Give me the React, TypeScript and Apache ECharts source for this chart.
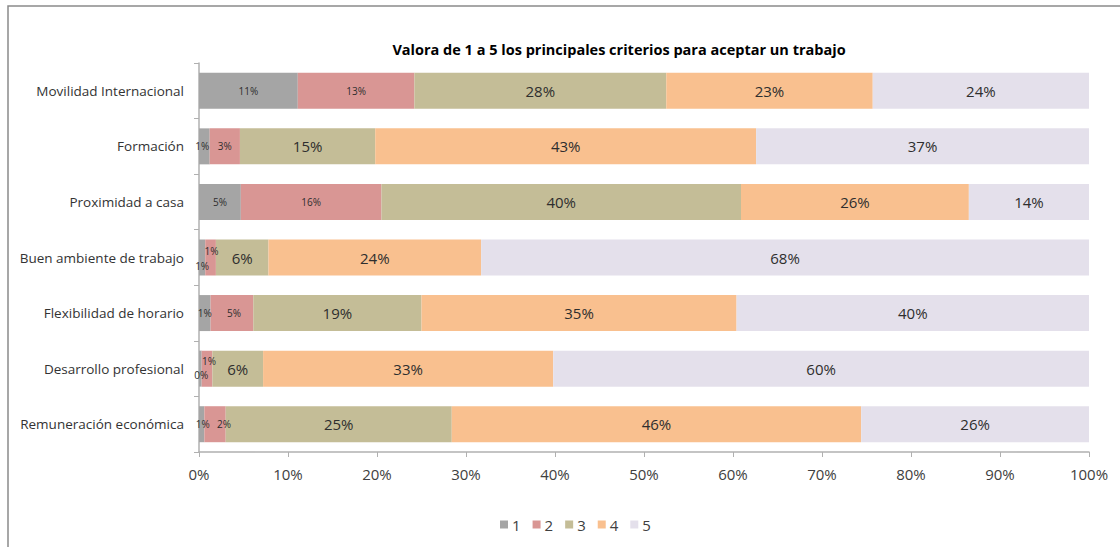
import React, { useEffect, useRef } from "react";
import * as echarts from "echarts";

const title = "Valora de 1 a 5 los principales criterios para aceptar un trabajo";
const categories = [
  "Movilidad Internacional",
  "Formación",
  "Proximidad a casa",
  "Buen ambiente de trabajo",
  "Flexibilidad de horario",
  "Desarrollo profesional",
  "Remuneración económica",
];
const seriesNames = ["1", "2", "3", "4", "5"];
const score1 = [11.1, 1.2, 4.7, 0.7, 1.3, 0.3, 0.6];
const score2 = [13.1, 3.4, 15.8, 1.2, 4.8, 1.2, 2.4];
const score3 = [28.3, 15.2, 40.4, 5.9, 18.9, 5.7, 25.4];
const score4 = [23.2, 42.8, 25.6, 23.9, 35.4, 32.6, 46.0];
const score5 = [24.3, 37.4, 13.5, 68.3, 39.6, 60.2, 25.6];
const xTicks = [0, 10, 20, 30, 40, 50, 60, 70, 80, 90, 100];

const colors = ["#a5a5a5", "#d99694", "#c4bd97", "#f9c08f", "#e4e0eb"];
const FONT = "'Open Sans', 'Noto Sans', sans-serif";

// label nudges for the tiny segments: key `${series}-${category}`
const labelOffsets: Record<string, [number, number]> = {
  "0-1": [-2, 0],
  "0-3": [0, 8],
  "1-3": [1, -7],
  "0-5": [1, 6],
  "1-5": [2, -8],
  "0-6": [1, 0],
  "1-6": [9, 0],
  "1-4": [2, 0],
};

export default function App() {
  const ref = useRef<HTMLDivElement>(null);
  useEffect(() => {
    if (!ref.current) return;
    const chart = echarts.init(ref.current, undefined, { renderer: "svg" });
    const all = [score1, score2, score3, score4, score5];
    const series = all.map((vals, si) => ({
      name: seriesNames[si],
      type: "bar",
      stack: "total",
      barWidth: 36,
      itemStyle: { color: colors[si] },
      label: {
        show: true,
        position: "inside",
        color: "#2e2e2e",
        fontFamily: FONT,
        fontSize: si < 2 ? 10 : 15,
        formatter: (p: any) => Math.round(p.value) + "%",
      },
      data: vals.map((v, ci) => {
        const off = labelOffsets[`${si}-${ci}`];
        return off ? { value: v, label: { offset: off } } : { value: v };
      }),
    }));
    chart.setOption({
      animation: false,
      backgroundColor: "#ffffff",
      title: {
        text: title,
        left: 614,
        textAlign: "center",
        top: 37,
        textStyle: { fontFamily: FONT, fontSize: 14.5, fontWeight: "bold", color: "#000" },
      },
      legend: {
        data: seriesNames,
        left: 495,
        top: 512,
        itemWidth: 8,
        itemHeight: 8,
        itemGap: 12,
        icon: "rect",
        textStyle: { fontFamily: FONT, fontSize: 15, color: "#404040", padding: [0, 0, 0, -1] },
      },
      graphic: [
        {
          type: "rect",
          shape: { x: 8, y: 6, width: 1200, height: 700 },
          style: { fill: "none", stroke: "#8a8a8a", lineWidth: 1.5 },
        },
      ],
      grid: { left: 199, right: 31, top: 63, bottom: 95, containLabel: false },
      xAxis: {
        type: "value",
        min: 0,
        max: 100,
        interval: 10,
        axisLine: { show: true, lineStyle: { color: "#b0b0b0", width: 1.5 } },
        axisTick: { show: true, length: 5, lineStyle: { color: "#b0b0b0" } },
        splitLine: { show: false },
        axisLabel: {
          margin: 14,
          fontFamily: FONT,
          fontSize: 15,
          color: "#404040",
          formatter: (v: number) => (xTicks.includes(v) ? v + "%" : ""),
        },
      },
      yAxis: {
        type: "category",
        data: categories,
        inverse: true,
        axisLine: { show: true, lineStyle: { color: "#b0b0b0", width: 1.5 } },
        axisTick: { show: true, length: 5, lineStyle: { color: "#b0b0b0" } },
        axisLabel: { margin: 15, fontFamily: FONT, fontSize: 13.5, color: "#333" },
      },
      series,
    });
    return () => chart.dispose();
  }, []);
  return (
    <div
      ref={ref}
      style={{ position: "absolute", left: 0, top: 0, width: 1120, height: 547 }}
    />
  );
}
